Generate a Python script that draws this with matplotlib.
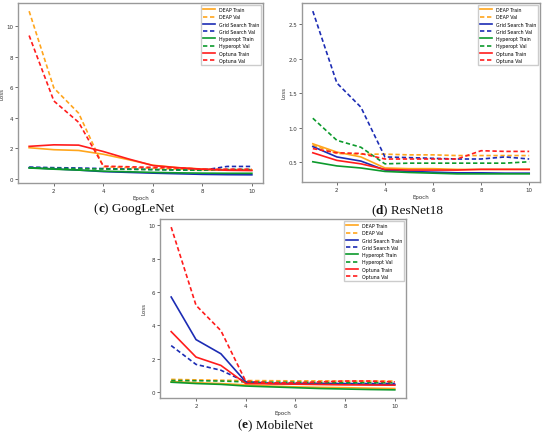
import matplotlib
matplotlib.use("Agg")
import matplotlib.pyplot as plt

epochs = [1, 2, 3, 4, 5, 6, 7, 8, 9, 10]
series_labels = ["DEAP Train", "DEAP Val", "Grid Search Train", "Grid Search Val",
                 "Hyperopt Train", "Hyperopt Val", "Optuna Train", "Optuna Val"]

# GoogLeNet
goog_deap_train = [2.03, 1.9, 1.85, 1.6, 1.25, 0.88, 0.72, 0.63, 0.58, 0.57]
goog_deap_val = [11.0, 5.95, 4.3, 0.78, 0.72, 0.68, 0.63, 0.58, 0.56, 0.56]
goog_grid_train = [0.72, 0.64, 0.56, 0.46, 0.41, 0.36, 0.32, 0.28, 0.26, 0.25]
goog_grid_val = [0.76, 0.72, 0.7, 0.66, 0.63, 0.6, 0.57, 0.55, 0.8, 0.8]
goog_hyp_train = [0.7, 0.62, 0.56, 0.49, 0.45, 0.41, 0.38, 0.36, 0.35, 0.35]
goog_hyp_val = [0.72, 0.68, 0.65, 0.63, 0.61, 0.59, 0.57, 0.55, 0.6, 0.6]
goog_opt_train = [2.12, 2.22, 2.2, 1.78, 1.3, 0.86, 0.72, 0.62, 0.55, 0.53]
goog_opt_val = [9.4, 5.1, 3.7, 0.82, 0.78, 0.74, 0.7, 0.62, 0.62, 0.62]

# ResNet18
res_deap_train = [0.77, 0.65, 0.58, 0.42, 0.41, 0.41, 0.40, 0.40, 0.40, 0.40]
res_deap_val = [0.75, 0.63, 0.62, 0.62, 0.61, 0.61, 0.60, 0.60, 0.60, 0.60]
res_grid_train = [0.73, 0.58, 0.52, 0.39, 0.37, 0.36, 0.35, 0.35, 0.345, 0.345]
res_grid_val = [2.69, 1.65, 1.3, 0.58, 0.57, 0.56, 0.55, 0.55, 0.58, 0.55]
res_hyp_train = [0.51, 0.45, 0.42, 0.37, 0.355, 0.345, 0.335, 0.335, 0.335, 0.335]
res_hyp_val = [1.14, 0.82, 0.72, 0.48, 0.49, 0.49, 0.49, 0.49, 0.49, 0.51]
res_opt_train = [0.64, 0.53, 0.48, 0.40, 0.39, 0.39, 0.39, 0.40, 0.40, 0.40]
res_opt_val = [0.70, 0.64, 0.63, 0.55, 0.55, 0.55, 0.55, 0.67, 0.66, 0.66]

# MobileNet
mob_deap_train = [0.62, 0.55, 0.5, 0.42, 0.35, 0.3, 0.27, 0.25, 0.22, 0.2]
mob_deap_val = [0.75, 0.72, 0.7, 0.68, 0.67, 0.66, 0.66, 0.65, 0.65, 0.65]
mob_grid_train = [5.7, 3.14, 2.29, 0.6, 0.5, 0.5, 0.5, 0.48, 0.45, 0.45]
mob_grid_val = [2.78, 1.65, 1.3, 0.6, 0.52, 0.5, 0.5, 0.5, 0.5, 0.5]
mob_hyp_train = [0.58, 0.5, 0.45, 0.35, 0.3, 0.25, 0.2, 0.17, 0.14, 0.12]
mob_hyp_val = [0.68, 0.67, 0.65, 0.6, 0.58, 0.58, 0.56, 0.55, 0.55, 0.55]
mob_opt_train = [3.62, 2.09, 1.59, 0.5, 0.48, 0.46, 0.44, 0.42, 0.41, 0.4]
mob_opt_val = [9.9, 5.2, 3.68, 0.64, 0.55, 0.55, 0.6, 0.65, 0.65, 0.6]

caption_letters = ["c", "d", "e"]
caption_names = ["GoogLeNet", "ResNet18", "MobileNet"]

colors = ['#ffa51c', '#ffa51c', '#1c2cb4', '#1c2cb4', '#0c9a2c', '#0c9a2c', '#ff1c1c', '#ff1c1c']
dash = (0, (2.6, 1.6))
styles = ['-', dash, '-', dash, '-', dash, '-', dash]

W, H = 550, 435
fig = plt.figure(figsize=(W / 100, H / 100), dpi=100)


def rect(l, t, r, b):
    return [l / W, 1 - b / H, (r - l) / W, (b - t) / H]


panels = [
    (rect(18, 4, 263, 184), [goog_deap_train, goog_deap_val, goog_grid_train, goog_grid_val,
                             goog_hyp_train, goog_hyp_val, goog_opt_train, goog_opt_val]),
    (rect(302, 4, 540, 183), [res_deap_train, res_deap_val, res_grid_train, res_grid_val,
                              res_hyp_train, res_hyp_val, res_opt_train, res_opt_val]),
    (rect(160, 220, 406, 399), [mob_deap_train, mob_deap_val, mob_grid_train, mob_grid_val,
                                mob_hyp_train, mob_hyp_val, mob_opt_train, mob_opt_val]),
]

axes = []
for r, data in panels:
    ax = fig.add_axes(r)
    for vals, lab, c, ls in zip(data, series_labels, colors, styles):
        ax.plot(epochs, vals, color=c, linestyle=ls, linewidth=1.2, label=lab)
    ax.set_xticks([2, 4, 6, 8, 10])
    ax.tick_params(labelsize=4, length=2, width=0.5, pad=1.5, colors='#333333')
    ax.set_xlabel("Epoch", fontsize=4, labelpad=1.5, color='#333333')
    ax.set_ylabel("Loss", fontsize=4, labelpad=1.5, color='#333333')
    for s in ax.spines.values():
        s.set_color('#999999')
        s.set_linewidth(1.0)
    ax.legend(loc='upper right', fontsize=3.4, handlelength=2.5, labelspacing=0.48,
              borderpad=0.45, handletextpad=0.8, framealpha=1, edgecolor='#cccccc',
              fancybox=False, borderaxespad=0.4)
    axes.append(ax)

axes[1].set_yticks([0.5, 1.0, 1.5, 2.0, 2.5])
axes[0].set_yticks([0, 2, 4, 6, 8, 10])
axes[2].set_yticks([0, 2, 4, 6, 8, 10])

# Captions: "(" + bold letter + ") Name", assembled from three text pieces
renderer = fig.canvas.get_renderer()
cap_pos = [(134, 209.5), (407, 211), (275, 425)]
cap_kw = dict(fontsize=9.5, family='Liberation Serif', color='#111111', va='center', ha='left')
for (x, y), letter, name in zip(cap_pos, caption_letters, caption_names):
    pieces = [("(", 'normal'), (letter, 'bold'), (") " + name, 'normal')]
    texts = [fig.text(0, 1 - y / H, s, fontweight=w, **cap_kw) for s, w in pieces]
    widths = [t.get_window_extent(renderer).width for t in texts]
    start = x - sum(widths) / 2
    for t, w in zip(texts, widths):
        t.set_x(start / W)
        start += w

fig.savefig("out.png", dpi=100)
